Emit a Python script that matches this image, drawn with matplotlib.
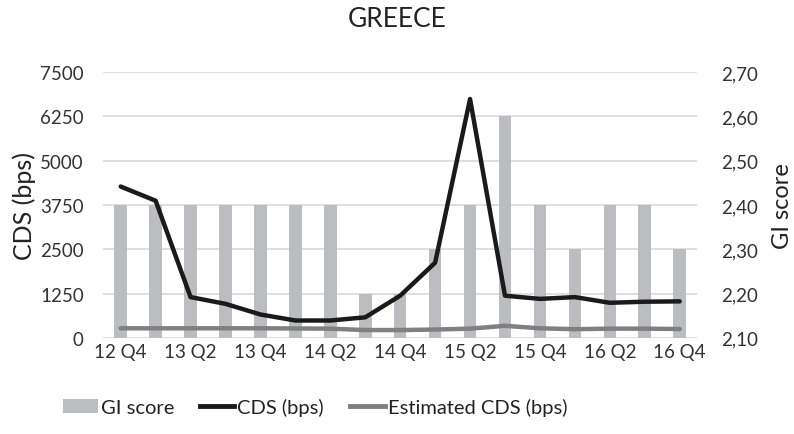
import matplotlib
matplotlib.use("Agg")
import matplotlib.pyplot as plt
import numpy as np
from matplotlib.patches import Patch
from matplotlib.lines import Line2D

quarters = ["12 Q4", "13 Q1", "13 Q2", "13 Q3", "13 Q4", "14 Q1", "14 Q2", "14 Q3", "14 Q4",
            "15 Q1", "15 Q2", "15 Q3", "15 Q4", "16 Q1", "16 Q2", "16 Q3", "16 Q4"]
gi_score = [2.40, 2.40, 2.40, 2.40, 2.40, 2.40, 2.40, 2.20, 2.20,
            2.30, 2.40, 2.60, 2.40, 2.30, 2.40, 2.40, 2.30]
cds = [4270, 3870, 1150, 960, 660, 490, 490, 580, 1190,
       2120, 6740, 1190, 1100, 1150, 990, 1020, 1030]
est_cds = [270, 270, 270, 270, 270, 265, 260, 220, 220,
           235, 260, 340, 270, 245, 260, 260, 250]

plt.rcParams['font.family'] = ['Lato', 'DejaVu Sans']

fig = plt.figure(figsize=(7.94, 4.35), dpi=100)
ax = fig.add_axes([0.130, 0.221, 0.748, 0.611])
ax2 = ax.twinx()
ax.set_zorder(ax2.get_zorder() + 1)
ax.patch.set_visible(False)

x = np.arange(len(quarters))
bar_color = "#bcbdc0"
ax2.bar(x, np.array(gi_score) - 2.10, bottom=2.10, width=0.36, color=bar_color, zorder=2)
ax2.set_ylim(2.10, 2.70)
ax2.set_yticks(np.arange(2.10, 2.71, 0.10))
ax2.set_yticklabels([f"{v:.2f}".replace(".", ",") for v in np.arange(2.10, 2.71, 0.10)])
ax2.grid(axis='y', color="#d9d9d9", linewidth=1.2, zorder=0)
ax2.set_axisbelow(True)

ax.plot(x, cds, color="#1a1a1a", linewidth=3.2, solid_joinstyle='round', solid_capstyle='round')
ax.plot(x, est_cds, color="#808080", linewidth=3.2, solid_capstyle='round')
ax.set_ylim(0, 7500)
ax.set_yticks(np.arange(0, 7501, 1250))
ax.set_xlim(-0.5, len(quarters) - 0.5)
ax.set_xticks(x[::2])
ax.set_xticklabels(quarters[::2])

for a in (ax, ax2):
    for s in a.spines.values():
        s.set_visible(False)
    a.tick_params(length=0, labelsize=13.5, colors="#333333")
ax.tick_params(axis='y', pad=14)
ax2.tick_params(axis='y', pad=17)
ax.tick_params(axis='x', pad=4)

ax.set_ylabel("CDS (bps)", fontsize=18, color="#222222", labelpad=3)
ax2.set_ylabel("GI score", fontsize=17, color="#222222", labelpad=10)
fig.suptitle("GREECE", fontsize=19, y=0.985, color="#222222")

handles = [Patch(facecolor=bar_color), Line2D([], [], color="#1a1a1a", linewidth=3.5),
           Line2D([], [], color="#808080", linewidth=3.5)]
labels = ["GI score", "CDS (bps)", "Estimated CDS (bps)"]
fig.legend(handles, labels, loc='center', bbox_to_anchor=(0.397, 0.063), ncol=3, frameon=False,
           fontsize=14.5, handlelength=1.7, handletextpad=0.15, columnspacing=1.3,
           labelcolor="#222222")

fig.savefig("out.png", dpi=100)
